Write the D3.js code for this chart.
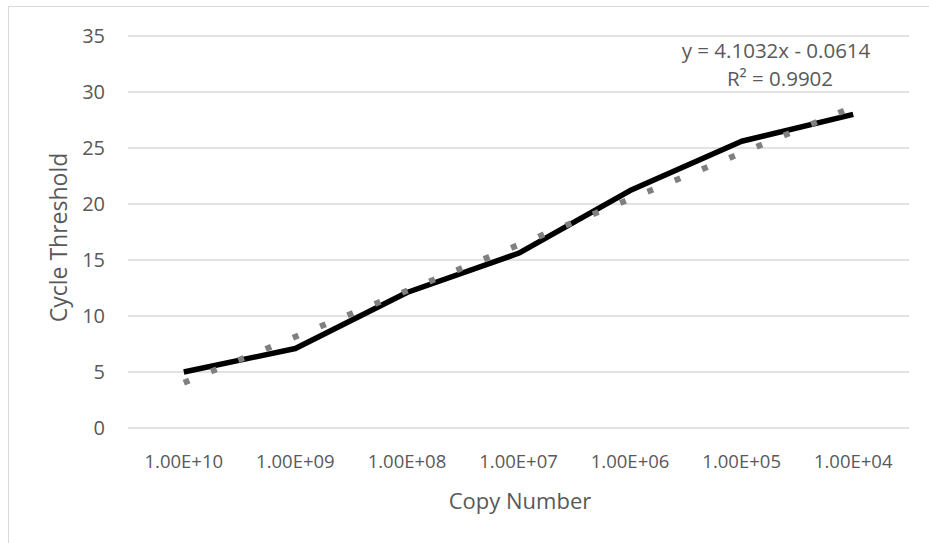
<!DOCTYPE html>
<html>
<head>
<meta charset="utf-8">
<script src="https://cdn.jsdelivr.net/npm/d3@7"></script>
<style>
  body { margin: 0; background: #fff; }
  text { font-family: "Open Sans", Lato, sans-serif; fill: #595959; }
</style>
</head>
<body>
<div class="chart"></div>
<script>
// data
var categories = ['1.00E+10', '1.00E+09', '1.00E+08', '1.00E+07', '1.00E+06', '1.00E+05', '1.00E+04']
var ctValues = [5, 7.1, 12.1, 15.6, 21.2, 25.6, 28]
var yTicks = [0, 5, 10, 15, 20, 25, 30, 35]
var trend = {slope: 4.1032, intercept: -0.0614, r2: 0.9902}

var width = 929, height = 543
var margin = {top: 36, right: 20, bottom: 115, left: 128}

var svg = d3.select('.chart')
            .append('svg')
            .attr('width', width)
            .attr('height', height)

// chart border
svg.append('rect')
   .attr('x', 8.5)
   .attr('y', 6.5)
   .attr('width', width + 10)
   .attr('height', height + 10)
   .style('fill', 'none')
   .style('stroke', '#d9d9d9')

var xScale = d3.scaleBand()
               .domain(categories)
               .range([margin.left, width - margin.right])

var yScale = d3.scaleLinear()
               .domain([0, 35])
               .range([height - margin.bottom, margin.top])

var cx = function(i){ return xScale(categories[i]) + xScale.bandwidth()/2 }

// gridlines
svg.append('g')
   .selectAll('line')
   .data(yTicks)
   .enter()
   .append('line')
   .attr('x1', margin.left)
   .attr('x2', width - margin.right)
   .attr('y1', function(d){ return yScale(d) })
   .attr('y2', function(d){ return yScale(d) })
   .style('stroke', '#d9d9d9')
   .style('stroke-width', 1.5)

// y axis labels
var yAxis = d3.axisLeft(yScale).tickValues(yTicks).tickSize(0).tickPadding(23)
svg.append('g')
   .attr('transform', 'translate(' + margin.left + ',0)')
   .call(yAxis)
   .call(function(g){ g.select('.domain').remove() })
   .selectAll('text')
   .style('font-family', '"Open Sans", sans-serif')
   .style('font-size', '20px')
   .style('fill', '#595959')

// x axis labels
var xAxis = d3.axisBottom(xScale).tickSize(0).tickPadding(27)
svg.append('g')
   .attr('transform', 'translate(0,' + (height - margin.bottom) + ')')
   .call(xAxis)
   .call(function(g){ g.select('.domain').remove() })
   .selectAll('text')
   .style('font-family', '"Open Sans", sans-serif')
   .style('font-size', '18.5px')
   .style('fill', '#595959')

// axis titles
svg.append('text')
   .attr('x', 520)
   .attr('y', 509)
   .attr('text-anchor', 'middle')
   .style('font-size', '22px')
   .text('Copy Number')

svg.append('text')
   .attr('transform', 'translate(67,' + 237.5 + ') rotate(-90)')
   .attr('text-anchor', 'middle')
   .style('font-size', '23px')
   .text('Cycle Threshold')

// data line
var line = d3.line()
             .x(function(d, i){ return cx(i) })
             .y(function(d){ return yScale(d) })

svg.append('path')
   .datum(ctValues)
   .attr('d', line)
   .style('fill', 'none')
   .style('stroke', '#000')
   .style('stroke-width', 5.5)
   .style('stroke-linejoin', 'round')

// linear trendline
var trendData = [1, categories.length].map(function(n){ return trend.slope*n + trend.intercept })
svg.append('path')
   .datum(trendData)
   .attr('d', d3.line()
      .x(function(d, i){ return cx(i*(categories.length - 1)) })
      .y(function(d){ return yScale(d) }))
   .style('fill', 'none')
   .style('stroke', '#808080')
   .style('stroke-width', 6)
   .style('stroke-dasharray', '6,23.5')

// equation label
svg.append('text')
   .attr('x', 776)
   .attr('y', 58)
   .attr('text-anchor', 'middle')
   .style('font-size', '20.5px')
   .text('y = ' + trend.slope + 'x - ' + Math.abs(trend.intercept))

svg.append('text')
   .attr('x', 780)
   .attr('y', 86)
   .attr('text-anchor', 'middle')
   .style('font-size', '20.5px')
   .text('R² = ' + trend.r2)
</script>
</body>
</html>
